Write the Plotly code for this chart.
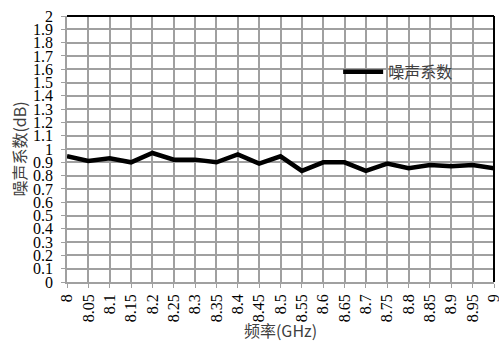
import plotly.graph_objects as go

freq_labels = ["8", "8.05", "8.1", "8.15", "8.2", "8.25", "8.3", "8.35", "8.4", "8.45", "8.5",
               "8.55", "8.6", "8.65", "8.7", "8.75", "8.8", "8.85", "8.9", "8.95", "9"]
freq = [float(s) for s in freq_labels]
noise_figure = [0.945, 0.91, 0.93, 0.90, 0.97, 0.92, 0.92, 0.90, 0.96, 0.89, 0.945,
                0.835, 0.90, 0.90, 0.835, 0.89, 0.855, 0.88, 0.87, 0.88, 0.855]
y_ticks = [round(i * 0.1, 1) for i in range(21)]
y_ticktext = [f"{v:g}" for v in y_ticks]

serif = "Liberation Serif"
cjk = "Noto Sans CJK SC"

fig = go.Figure()
fig.add_trace(go.Scatter(x=freq, y=noise_figure, mode="lines", name="噪声系数",
                         line=dict(color="black", width=4.5)))

fig.update_layout(
    width=499, height=342,
    font=dict(family=serif, size=16, color="black"),
    margin=dict(l=67, r=5, t=16, b=60, autoexpand=False),
    paper_bgcolor="white", plot_bgcolor="white",
    showlegend=True,
    legend=dict(x=0.635, y=0.79, xanchor="left", yanchor="middle",
                bgcolor="rgba(0,0,0,0)",
                font=dict(family=cjk, size=16, color="#404040"),
                itemwidth=40),
    xaxis=dict(range=[8, 9], tickmode="array", tickvals=freq, ticktext=freq_labels, tickangle=-90,
               ticklabeloverflow="allow", automargin=False,
               showgrid=True, gridcolor="#a0a0a0", gridwidth=1.5,
               showline=True, linecolor="#a0a0a0", linewidth=1.5,
               ticks="outside", ticklen=4, tickcolor="#a0a0a0",
               tickfont=dict(family=serif, size=16, color="black"),
               title=dict(text="频率(GHz)", font=dict(family=cjk, size=16, color="#404040"),
                          standoff=0),
               zeroline=False),
    yaxis=dict(range=[0, 2], tickmode="array", tickvals=y_ticks, ticktext=y_ticktext,
               automargin=False, ticklabelstandoff=5,
               showgrid=True, gridcolor="#a0a0a0", gridwidth=1.5,
               showline=True, linecolor="#a0a0a0", linewidth=1.5,
               ticks="outside", ticklen=4, tickcolor="#a0a0a0",
               tickfont=dict(family=serif, size=16, color="black"),
               title=dict(text="噪声系数(dB)", font=dict(family=cjk, size=16, color="#404040"),
                          standoff=2),
               zeroline=False),
    shapes=[
        dict(type="line", xref="paper", yref="paper", x0=0, x1=1, y0=1, y1=1,
             line=dict(color="black", width=2)),
        dict(type="line", xref="paper", yref="paper", x0=1, x1=1, y0=0, y1=1,
             line=dict(color="black", width=2)),
    ],
)

fig.write_html("out.html")
